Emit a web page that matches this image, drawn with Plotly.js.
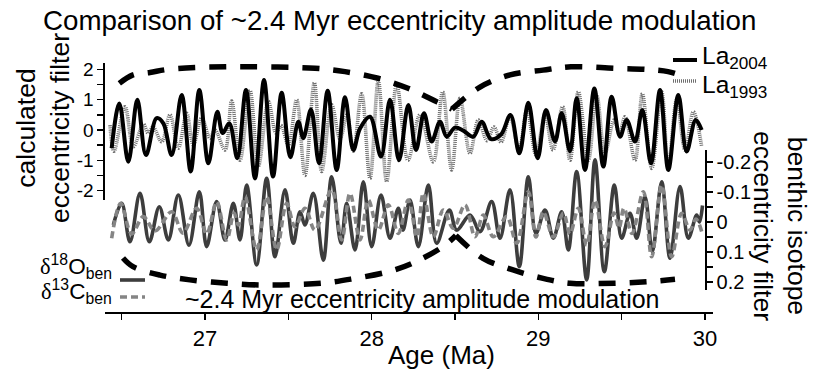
<!DOCTYPE html>
<html>
<head>
<meta charset="utf-8">
<script src="https://cdn.plot.ly/plotly-3.0.1.min.js"></script>
<style>html,body{margin:0;padding:0;background:#fff;}#chart{width:813px;height:369px;}</style>
</head>
<body>
<div id="chart"></div>
<script>
// ---- data (ages in Ma) ----
const la2004Age = [26.440,26.486,26.540,26.594,26.646,26.710,26.750,26.800,26.860,26.914,26.966,27.020,27.074,27.106,27.146,27.194,27.246,27.300,27.354,27.408,27.460,27.512,27.560,27.590,27.636,27.684,27.736,27.790,27.840,27.890,27.930,27.990,28.056,28.110,28.164,28.220,28.266,28.314,28.360,28.410,28.450,28.500,28.550,28.610,28.660,28.716,28.776,28.833,28.886,28.940,28.996,29.046,29.100,29.140,29.190,29.230,29.280,29.336,29.390,29.440,29.490,29.530,29.580,29.624,29.676,29.730,29.780,29.840,29.890,29.944,29.980];
const la2004Val = [-0.60,0.88,-1.05,1.00,-0.83,0.39,0.22,-0.83,1.16,-1.37,1.32,-1.10,0.60,-0.10,0.22,-0.93,1.32,-1.60,1.65,-1.54,1.23,-0.90,0.27,-0.27,0.68,-1.10,1.30,-1.32,1.08,-0.66,0.05,0.44,-0.88,1.00,-1.00,0.83,-0.66,0.55,-0.38,0.27,-0.22,0.08,-0.02,-0.22,0.27,-0.30,-0.15,0.50,-0.77,0.90,-0.93,0.66,-0.38,0.55,-0.70,1.05,-1.32,1.37,-1.21,1.10,-0.22,0.33,-0.38,0.66,-1.10,1.32,-1.32,1.16,-0.71,0.33,0.00];

const la1993Age = [26.430,26.454,26.520,26.570,26.630,26.658,26.688,26.740,26.790,26.840,26.890,26.930,26.980,27.030,27.060,27.120,27.160,27.210,27.270,27.320,27.380,27.426,27.456,27.500,27.550,27.600,27.656,27.700,27.760,27.810,27.852,27.890,27.940,27.990,28.040,28.090,28.150,28.218,28.290,28.370,28.426,28.480,28.530,28.590,28.640,28.692,28.734,28.776,28.830,28.884,28.932,28.986,29.040,29.088,29.146,29.190,29.240,29.300,29.350,29.400,29.454,29.487,29.520,29.580,29.624,29.680,29.740,29.780,29.830,29.880,29.930,29.980];
const la1993Val = [0.16,-0.70,0.77,-0.55,0.20,-0.10,0.10,-0.39,0.50,-0.60,0.55,-0.50,0.40,-0.27,0.00,-0.66,0.96,-1.00,1.30,-1.20,0.95,-0.10,0.15,-0.50,1.00,-1.50,1.56,-1.37,0.83,-0.30,0.50,-0.70,1.20,-1.60,1.63,-1.70,1.50,-1.00,0.50,-1.05,1.26,-1.32,1.05,-0.77,0.33,-0.35,0.10,-0.40,0.44,-0.66,0.66,-0.83,0.50,-0.66,0.77,-1.00,1.26,-1.00,1.16,-0.77,0.33,-0.10,0.44,-1.00,1.20,-1.27,1.26,-1.21,1.00,-0.66,0.60,-0.55];

const d18OAge = [26.450,26.500,26.550,26.610,26.666,26.726,26.780,26.840,26.904,26.966,27.010,27.070,27.120,27.170,27.210,27.250,27.310,27.370,27.420,27.480,27.530,27.570,27.600,27.650,27.710,27.760,27.816,27.850,27.900,27.950,28.000,28.056,28.110,28.160,28.188,28.230,28.280,28.340,28.390,28.466,28.510,28.590,28.650,28.720,28.770,28.830,28.886,28.940,28.986,29.040,29.090,29.140,29.180,29.230,29.290,29.340,29.396,29.456,29.500,29.550,29.590,29.640,29.684,29.740,29.790,29.850,29.900,29.950,29.967,29.985];
const d18OVal = [0.010,-0.062,0.066,-0.096,0.066,-0.051,0.060,-0.090,0.077,-0.101,0.082,-0.068,0.060,-0.062,0.060,-0.123,0.143,-0.146,0.116,-0.107,0.071,-0.034,0.010,-0.096,0.127,-0.151,0.071,-0.062,0.093,-0.134,0.082,-0.090,0.054,-0.046,0.027,-0.073,0.082,-0.123,0.071,-0.040,0.027,-0.023,0.032,-0.068,0.054,-0.107,0.149,-0.151,0.038,-0.040,0.054,-0.034,0.093,-0.168,0.193,-0.207,0.166,-0.123,0.054,-0.029,0.054,-0.084,0.099,-0.134,0.121,-0.118,0.054,-0.023,0.000,-0.055];

const d13CAge = [26.440,26.494,26.560,26.630,26.700,26.800,26.868,26.950,27.010,27.070,27.130,27.174,27.201,27.240,27.310,27.370,27.430,27.490,27.540,27.600,27.660,27.760,27.820,27.870,27.930,27.980,28.040,28.100,28.160,28.220,28.272,28.310,28.370,28.430,28.490,28.560,28.620,28.670,28.730,28.810,28.870,28.940,28.986,29.030,29.090,29.150,29.190,29.240,29.290,29.340,29.400,29.454,29.484,29.514,29.562,29.630,29.680,29.740,29.800,29.860,29.910,29.946,29.980];
const d13CVal = [0.054,-0.062,0.040,-0.018,0.030,-0.034,0.037,-0.046,0.040,-0.068,0.060,-0.030,0.010,-0.084,0.093,-0.084,0.093,-0.062,0.016,-0.046,0.027,-0.107,0.060,-0.096,0.060,-0.073,0.027,-0.057,0.038,-0.073,0.050,-0.096,0.049,-0.040,0.021,-0.057,0.049,-0.023,0.049,-0.018,0.071,-0.101,0.050,-0.034,0.050,-0.030,0.040,-0.046,0.077,-0.073,0.082,-0.030,0.020,-0.046,0.038,-0.101,0.116,-0.123,0.116,-0.029,0.027,-0.010,0.032];

// ~2.4 Myr amplitude-modulation envelopes (two arcs each, meeting at the node)
const envTopAgeA = [26.486,26.568,26.670,26.772,26.970,27.270,27.660,27.840,28.038,28.218,28.392,28.482];
const envTopValA = [1.54,1.82,1.90,2.00,2.07,2.09,2.04,1.93,1.71,1.38,0.93,0.69];
const envTopAgeB = [28.482,28.650,28.830,29.028,29.196,29.460,29.658,29.778,29.820];
const envTopValB = [0.69,1.42,1.82,1.98,2.09,2.04,2.00,1.93,1.87];
const envBotAgeA = [26.508,26.568,26.730,26.910,27.132,27.342,27.702,27.900,28.098,28.242,28.428,28.505];
const envBotValA = [0.120,0.149,0.177,0.193,0.204,0.210,0.204,0.188,0.166,0.138,0.082,0.045];
const envBotAgeB = [28.505,28.668,28.848,29.028,29.190,29.460,29.658,29.820];
const envBotValB = [0.045,0.121,0.160,0.188,0.204,0.204,0.199,0.191];

// tick labels
const xTickVals = [27, 28, 29, 30];
const xTickText = ["27", "28", "29", "30"];
const yTickVals = [-2, -1, 0, 1, 2];
const yTickText = ["-2", "-1", "0", "1", "2"];
const y2TickVals = [-0.2, -0.1, 0, 0.1, 0.2];
const y2TickText = ["-0.2", "-0.1", "0", "0.1", "0.2"];

// ---- layout helpers (pixel -> paper) ----
const W = 813, H = 369, L = 105, R = 100, T = 55, B = 57;
const PW = W - L - R, PH = H - T - B;
const px = v => (v - L) / PW;
const py = v => (H - B - v) / PH;
const FONT = "Liberation Sans, Arial, Helvetica, sans-serif";
const DOT = '1px,1px';

const traces = [
  {x: la1993Age, y: la1993Val, xaxis: 'x', yaxis: 'y', mode: 'lines', line: {color: '#6e6e6e', width: 3.6, dash: DOT, shape: 'spline', smoothing: 1}, name: 'La1993'},
  {x: la2004Age, y: la2004Val, xaxis: 'x', yaxis: 'y', mode: 'lines', line: {color: '#000', width: 4, shape: 'spline', smoothing: 1}, name: 'La2004'},
  {x: envTopAgeA, y: envTopValA, xaxis: 'x', yaxis: 'y', mode: 'lines', line: {color: '#000', width: 5.5, dash: '17px,14px', shape: 'spline'}, name: 'envelope'},
  {x: envTopAgeB, y: envTopValB, xaxis: 'x', yaxis: 'y', mode: 'lines', line: {color: '#000', width: 5.5, dash: '17px,14px', shape: 'spline'}, name: 'envelope'},
  {x: d18OAge, y: d18OVal, xaxis: 'x', yaxis: 'y2', mode: 'lines', line: {color: '#3d3d3d', width: 3.6, shape: 'spline', smoothing: 1}, name: 'd18O'},
  {x: d13CAge, y: d13CVal, xaxis: 'x', yaxis: 'y2', mode: 'lines', line: {color: '#858585', width: 3.6, dash: '7px,4px', shape: 'spline', smoothing: 1}, name: 'd13C'},
  {x: envBotAgeA, y: envBotValA, xaxis: 'x', yaxis: 'y2', mode: 'lines', line: {color: '#000', width: 5.5, dash: '17px,14px', shape: 'spline'}, name: 'envelope'},
  {x: envBotAgeB, y: envBotValB, xaxis: 'x', yaxis: 'y2', mode: 'lines', line: {color: '#000', width: 5.5, dash: '17px,14px', shape: 'spline'}, name: 'envelope'}
];

const axisCommon = {showgrid: false, zeroline: false, showline: true, linecolor: '#000', linewidth: 1.6,
  ticks: 'outside', ticklen: 6, tickwidth: 1.4, tickcolor: '#000', tickmode: 'array', fixedrange: true};

const ann = (text, x, y, size, extra) => Object.assign({text: text, xref: 'paper', yref: 'paper', x: px(x), y: py(y),
  showarrow: false, font: {family: FONT, size: size, color: '#000'}, xanchor: 'center', yanchor: 'middle', borderpad: 0}, extra || {});

const DELTA = '<span style="font-family:\'Liberation Serif\',\'DejaVu Serif\',serif">δ</span>';

const layout = {
  width: W, height: H,
  margin: {l: L, r: R, t: T, b: B, pad: 0},
  paper_bgcolor: '#fff', plot_bgcolor: 'rgba(0,0,0,0)',
  showlegend: false,
  font: {family: FONT, color: '#000'},
  title: {text: 'Comparison of ~2.4 Myr eccentricity amplitude modulation', font: {family: FONT, size: 27.7, color: '#000'},
    xref: 'container', yref: 'container', x: 43 / W, xanchor: 'left', y: 1 - 20 / H, yanchor: 'middle'},
  xaxis: Object.assign({}, axisCommon, {range: [26.4, 30.048], anchor: 'free', position: 0,
    tickvals: xTickVals, ticktext: xTickText, tickfont: {family: FONT, size: 22},
    minor: {tickvals: [26.5, 27.5, 28.5, 29.5], ticklen: 6, tickwidth: 1.4, tickcolor: '#000', ticks: 'outside'}}),
  yaxis: Object.assign({}, axisCommon, {range: [-2.314, 2.215], domain: [py(200), py(63)], anchor: 'x',
    tickvals: yTickVals, ticktext: yTickText, tickfont: {family: FONT, size: 19},
    minor: {tickvals: [-1.5, -0.5, 0.5, 1.5], ticklen: 6, tickwidth: 1.4, tickcolor: '#000', ticks: 'outside'}}),
  yaxis2: Object.assign({}, axisCommon, {range: [0.2267, -0.24], domain: [py(290), py(150)], anchor: 'free', position: px(705), side: 'right',
    tickvals: y2TickVals, ticktext: y2TickText, tickfont: {family: FONT, size: 20},
    minor: {tickvals: [-0.15, -0.05, 0.05, 0.15], ticklen: 6, tickwidth: 1.4, tickcolor: '#000', ticks: 'outside'}}),
  annotations: [
    ann('calculated<br>eccentricity filter', 43, 128, 26.5, {textangle: -90}),
    ann('benthic isotope<br>eccentricity filter', 780, 226, 26.5, {textangle: 90}),
    ann('Age (Ma)', 441, 355, 26),
    ann('~2.4 Myr eccentricity amplitude modulation', 422.5, 299, 25),
    ann('La<sub>2004</sub>', 701, 58, 24.5, {xanchor: 'left'}),
    ann('La<sub>1993</sub>', 701, 86, 24.5, {xanchor: 'left'}),
    ann(DELTA + '<sup>18</sup>O<sub>ben</sub>', 113, 266, 22.5, {xanchor: 'right'}),
    ann(DELTA + '<sup>13</sup>C<sub>ben</sub>', 113, 291, 22.5, {xanchor: 'right'})
  ],
  shapes: [
    {type: 'line', xref: 'paper', yref: 'paper', x0: px(673), x1: px(697), y0: py(60), y1: py(60), line: {color: '#000', width: 4}},
    {type: 'line', xref: 'paper', yref: 'paper', x0: px(673), x1: px(697), y0: py(81), y1: py(81), line: {color: '#6e6e6e', width: 3.6, dash: DOT}},
    {type: 'line', xref: 'paper', yref: 'paper', x0: px(120), x1: px(145), y0: py(280), y1: py(280), line: {color: '#3d3d3d', width: 3.6}},
    {type: 'line', xref: 'paper', yref: 'paper', x0: px(120), x1: px(145), y0: py(297), y1: py(297), line: {color: '#858585', width: 3.6, dash: '7px,4px'}}
  ]
};

Plotly.newPlot('chart', traces, layout, {displayModeBar: false, staticPlot: true});
</script>
</body>
</html>
